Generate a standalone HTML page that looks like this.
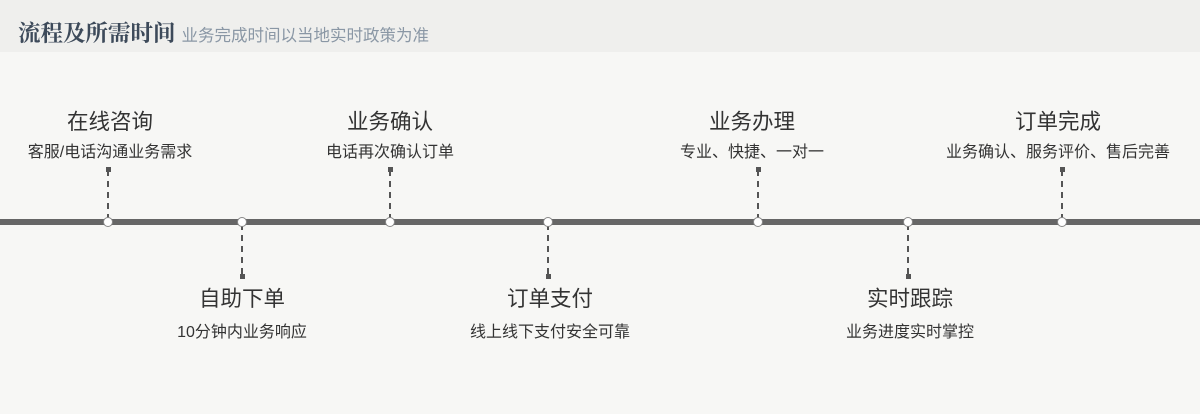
<!DOCTYPE html>
<html><head><meta charset="utf-8"><style>
body{margin:0;width:1200px;height:414px;background:#f7f7f5;position:relative;overflow:hidden;font-family:"Liberation Sans","Noto Sans CJK SC",sans-serif}
.hd{position:absolute;left:0;top:0;width:1200px;height:52px;background:#efefed}
.t{position:absolute;left:18px;top:16px;font-family:"Liberation Serif","Noto Serif CJK SC",serif;font-weight:bold;font-size:22.5px;color:#3d4a5a;white-space:nowrap}
.t span{font-family:"Liberation Sans","Noto Sans CJK SC",sans-serif;font-weight:normal;font-size:16.5px;color:#8a97a5;margin-left:6px}
.line{position:absolute;left:0;top:219px;width:1200px;height:6px;background:#666}
.n{position:absolute;width:8px;height:8px;border-radius:50%;background:#fff;border:1.5px solid #888;top:216.5px;margin-left:-5.5px}
.s{position:absolute;width:0;border-left:2px dashed #555;margin-left:-1px}
.d{position:absolute;width:5px;height:5px;background:#555;margin-left:-2.5px}
.l{position:absolute;width:300px;margin-left:-150px;text-align:center;color:#333;white-space:nowrap}
.l b{display:block;font-weight:normal;font-size:21.5px;line-height:24px}
.l i{display:block;font-style:normal;font-size:16px;line-height:20px;margin-top:9px}
.bt i{margin-top:12px}
</style></head><body>
<div class="hd"></div>
<div class="t">流程及所需时间<span>业务完成时间以当地实时政策为准</span></div>
<div class="line"></div>

<div class="l" style="left:110px;top:110px"><b>在线咨询</b><i>客服/电话沟通业务需求</i></div>
<div class="l" style="left:390px;top:110px"><b>业务确认</b><i>电话再次确认订单</i></div>
<div class="l" style="left:752px;top:110px"><b>业务办理</b><i>专业、快捷、一对一</i></div>
<div class="l" style="left:1058px;top:110px"><b>订单完成</b><i>业务确认、服务评价、售后完善</i></div>

<div class="l bt" style="left:242px;top:287px"><b>自助下单</b><i>10分钟内业务响应</i></div>
<div class="l bt" style="left:550px;top:287px"><b>订单支付</b><i>线上线下支付安全可靠</i></div>
<div class="l bt" style="left:910px;top:287px"><b>实时跟踪</b><i>业务进度实时掌控</i></div>

<div class="s" style="left:108px;top:170px;height:50px"></div><div class="d" style="left:108px;top:167px"></div>
<div class="s" style="left:390px;top:170px;height:50px"></div><div class="d" style="left:390px;top:167px"></div>
<div class="s" style="left:758px;top:170px;height:50px"></div><div class="d" style="left:758px;top:167px"></div>
<div class="s" style="left:1062px;top:170px;height:50px"></div><div class="d" style="left:1062px;top:167px"></div>

<div class="s" style="left:242px;top:224px;height:50px"></div><div class="d" style="left:242px;top:274px"></div>
<div class="s" style="left:548px;top:224px;height:50px"></div><div class="d" style="left:548px;top:274px"></div>
<div class="s" style="left:908px;top:224px;height:50px"></div><div class="d" style="left:908px;top:274px"></div>

<div class="n" style="left:108px"></div>
<div class="n" style="left:242px"></div>
<div class="n" style="left:390px"></div>
<div class="n" style="left:548px"></div>
<div class="n" style="left:758px"></div>
<div class="n" style="left:908px"></div>
<div class="n" style="left:1062px"></div>
</body></html>
